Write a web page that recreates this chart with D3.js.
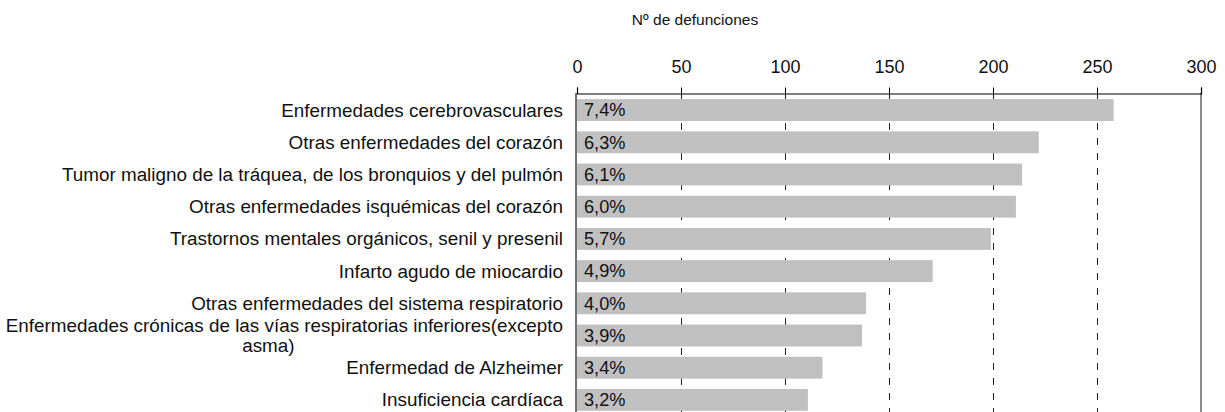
<!DOCTYPE html>
<html>
<head>
<meta charset="utf-8">
<script src="https://cdn.jsdelivr.net/npm/d3@7"></script>
<style>
  html, body { margin: 0; padding: 0; background: #fff; }
  svg { display: block; font-family: "Liberation Sans", Arial, sans-serif; }
</style>
</head>
<body>
<svg id="chart" width="1225" height="412"></svg>
<script>
// Principales causas de defunción: número de defunciones y porcentaje sobre el total
const categories = [
  "Enfermedades cerebrovasculares",
  "Otras enfermedades del corazón",
  "Tumor maligno de la tráquea, de los bronquios y del pulmón",
  "Otras enfermedades isquémicas del corazón",
  "Trastornos mentales orgánicos, senil y presenil",
  "Infarto agudo de miocardio",
  "Otras enfermedades del sistema respiratorio",
  "Enfermedades crónicas de las vías respiratorias inferiores(excepto asma)",
  "Enfermedad de Alzheimer",
  "Insuficiencia cardíaca"
];
const deaths = [258, 222, 214, 211, 199, 171, 139, 137, 118, 111];
const percentLabels = ["7,4%", "6,3%", "6,1%", "6,0%", "5,7%", "4,9%", "4,0%", "3,9%", "3,4%", "3,2%"];
const xTicks = [0, 50, 100, 150, 200, 250, 300];
const axisTitle = "Nº de defunciones";

const svg = d3.select("#chart");
const labelSize = 18.85;
const valueSize = 18.2;
const tickSize = 18;
const titleSize = 15.5;
const ink = "#111";

const x = d3.scaleLinear().domain([0, 300]).range([577, 1201]);
const y = d3.scaleBand().domain(categories).range([94, 416]).paddingInner(0.32).paddingOuter(0.16);

// dashed vertical gridlines (drawn beneath the bars)
svg.append("g")
  .selectAll("line")
  .data(xTicks.filter(d => d > 0 && d < 300))
  .join("line")
  .attr("x1", d => Math.round(x(d)) + 0.5)
  .attr("x2", d => Math.round(x(d)) + 0.5)
  .attr("y1", 93)
  .attr("y2", 412)
  .attr("stroke", "#222")
  .attr("stroke-width", 1)
  .attr("stroke-dasharray", "7,8");

// bars
svg.append("g")
  .selectAll("rect")
  .data(categories)
  .join("rect")
  .attr("x", x(0))
  .attr("y", d => y(d))
  .attr("width", (d, i) => x(deaths[i]) - x(0))
  .attr("height", y.bandwidth())
  .attr("fill", "#c0c0c0");

// percentage labels inside the bars
svg.append("g")
  .selectAll("text")
  .data(categories)
  .join("text")
  .attr("x", x(0) + 7)
  .attr("y", d => y(d) + y.bandwidth() / 2)
  .attr("dy", "0.35em")
  .attr("font-size", valueSize)
  .attr("fill", ink)
  .text((d, i) => percentLabels[i]);

// right frame line at the end of the scale
svg.append("line")
  .attr("x1", x(300)).attr("x2", x(300))
  .attr("y1", 93).attr("y2", 412)
  .attr("stroke", "#8c8c8c").attr("stroke-width", 2);

// left baseline
svg.append("line")
  .attr("x1", x(0) - 1).attr("x2", x(0) - 1)
  .attr("y1", 93).attr("y2", 412)
  .attr("stroke", "#707070").attr("stroke-width", 2);

// top value axis
const axis = d3.axisTop(x)
  .tickValues(xTicks)
  .tickSize(6)
  .tickPadding(15)
  .tickFormat(d3.format("d"));
const gAxis = svg.append("g")
  .attr("transform", "translate(0,93.5)")
  .call(axis);
gAxis.select(".domain").attr("stroke", "#000").attr("stroke-width", 1.2);
gAxis.selectAll(".tick line").attr("stroke", "#000");
gAxis.selectAll(".tick text")
  .attr("font-size", tickSize)
  .attr("font-family", "Liberation Sans, Arial, sans-serif")
  .attr("fill", ink);

// axis title
svg.append("text")
  .attr("x", 695)
  .attr("y", 20)
  .attr("dy", "0.35em")
  .attr("text-anchor", "middle")
  .attr("font-size", titleSize)
  .attr("fill", ink)
  .text(axisTitle);

// category labels (long label wraps onto a second line)
const labelX = 563;
const gLabels = svg.append("g");
categories.forEach((c, i) => {
  const cy = y(c) + y.bandwidth() / 2;
  if (c.includes("(excepto asma)")) {
    const first = c.replace(" asma)", "");
    const t1 = gLabels.append("text")
      .attr("x", labelX).attr("y", cy - 10).attr("dy", "0.35em")
      .attr("text-anchor", "end").attr("font-size", labelSize).attr("fill", ink)
      .text(first);
    const w = t1.node().getComputedTextLength();
    gLabels.append("text")
      .attr("x", labelX - w / 2 - 16).attr("y", cy + 10).attr("dy", "0.35em")
      .attr("text-anchor", "middle").attr("font-size", labelSize).attr("fill", ink)
      .text("asma)");
  } else {
    gLabels.append("text")
      .attr("x", labelX).attr("y", cy).attr("dy", "0.35em")
      .attr("text-anchor", "end").attr("font-size", labelSize).attr("fill", ink)
      .text(c);
  }
});
</script>
</body>
</html>
